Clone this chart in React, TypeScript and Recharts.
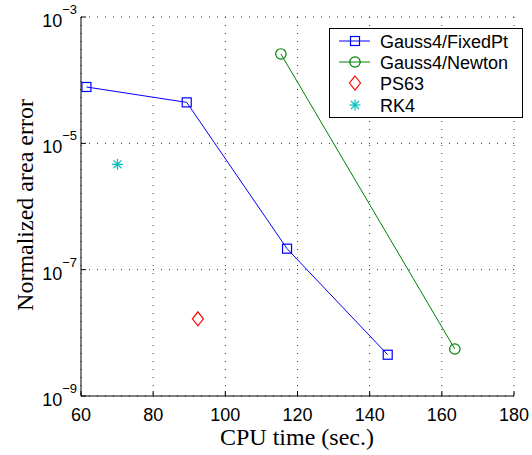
import {
  ScatterChart, Scatter, XAxis, YAxis, CartesianGrid, Legend,
} from 'recharts'

// CPU time (sec.) vs normalized area error
const fixedPtTime = [61.5, 89.3, 117.1, 145.0]
const fixedPtError = [7.8e-5, 4.45e-5, 2.15e-7, 4.5e-9]
const newtonTime = [115.4, 163.6]
const newtonError = [2.6e-4, 5.55e-9]
const ps63Time = [92.4]
const ps63Error = [1.67e-8]
const rk4Time = [70.1]
const rk4Error = [4.65e-6]

const xTicks = [60, 80, 100, 120, 140, 160, 180]
const yTicks = [1e-9, 1e-7, 1e-5, 1e-3]

const BLUE = '#0000ff'
const GREEN = '#008000'
const RED = '#ff0000'
const CYAN = '#00bfbf'

const sans = '"Liberation Sans", Arial, Helvetica, sans-serif'
const serif = '"Liberation Serif", "Times New Roman", serif'

const toPoints = (xs: number[], ys: number[]) => xs.map((x, i) => ({ x, y: ys[i] }))

function Square({ cx, cy, stroke }: any) {
  return <rect x={cx - 4.5} y={cy - 4.5} width={9} height={9} fill="none" stroke={stroke} strokeWidth={1.2} />
}

function Circle({ cx, cy, stroke }: any) {
  return <circle cx={cx} cy={cy} r={5.2} fill="none" stroke={stroke} strokeWidth={1.2} />
}

function Diamond({ cx, cy, stroke }: any) {
  return (
    <path
      d={`M${cx},${cy - 7} L${cx + 5.5},${cy} L${cx},${cy + 7} L${cx - 5.5},${cy} Z`}
      fill="none" stroke={stroke} strokeWidth={1.2}
    />
  )
}

function Star({ cx, cy, stroke }: any) {
  const r = 5.5
  const d = r * 0.72
  return (
    <g stroke={stroke} strokeWidth={1.2}>
      <line x1={cx - r} y1={cy} x2={cx + r} y2={cy} />
      <line x1={cx} y1={cy - r} x2={cx} y2={cy + r} />
      <line x1={cx - d} y1={cy - d} x2={cx + d} y2={cy + d} />
      <line x1={cx - d} y1={cy + d} x2={cx + d} y2={cy - d} />
    </g>
  )
}

function BottomTick({ x, y, payload }: any) {
  const axisY = y - 4
  return (
    <g>
      <line x1={x} y1={axisY} x2={x} y2={axisY - 5} stroke="#000" />
      <text x={x} y={y} dy={21} textAnchor="middle" fontFamily={sans} fontSize={18} fill="#000">
        {payload.value}
      </text>
    </g>
  )
}

function LeftTick({ x, y, payload }: any) {
  const exp = Math.round(Math.log10(payload.value))
  const axisX = x + 4
  return (
    <g>
      <line x1={axisX} y1={y} x2={axisX + 5} y2={y} stroke="#000" />
      <text x={x} y={y + 10} textAnchor="end" fontFamily={sans} fontSize={18} fill="#000">
        10<tspan dy={-13} fontSize={13}>{`\u2212${Math.abs(exp)}`}</tspan>
      </text>
    </g>
  )
}

function TopTick({ x, y }: any) {
  return <line x1={x} y1={y} x2={x} y2={y + 5} stroke="#000" />
}

function RightTick({ x, y }: any) {
  return <line x1={x} y1={y} x2={x - 5} y2={y} stroke="#000" />
}

const legendRows = [
  { name: 'Gauss4/FixedPt', color: BLUE, line: true, Mark: Square },
  { name: 'Gauss4/Newton', color: GREEN, line: true, Mark: Circle },
  { name: 'PS63', color: RED, line: false, Mark: Diamond },
  { name: 'RK4', color: CYAN, line: false, Mark: Star },
]

function LegendBox() {
  const rowY = [13, 34, 55, 77]
  return (
    <svg width={194} height={90} style={{ display: 'block' }}>
      <rect x={0.5} y={0.5} width={193} height={89} fill="#fff" stroke="#000" strokeWidth={1} />
      {legendRows.map((r, i) => (
        <g key={r.name}>
          {r.line && <line x1={10} y1={rowY[i]} x2={41} y2={rowY[i]} stroke={r.color} strokeWidth={1} />}
          <r.Mark cx={26} cy={rowY[i]} stroke={r.color} />
          <text x={51} y={rowY[i] + 6.5} fontFamily={sans} fontSize={18} fill="#000">{r.name}</text>
        </g>
      ))}
    </svg>
  )
}

export default function App() {
  return (
    <div style={{ position: 'fixed', left: 0, top: 0, width: 532, height: 455, background: '#fff' }}>
      <ScatterChart width={532} height={455} margin={{ top: 17, right: 18, bottom: 29, left: 11 }}>
        <CartesianGrid stroke="#333" strokeDasharray="1 7" />
        <XAxis
          type="number" dataKey="x" domain={[60, 180]} ticks={xTicks} height={30}
          stroke="#000" tickSize={0} tickMargin={4} tick={<BottomTick />} allowDataOverflow
        />
        <XAxis
          xAxisId="top" orientation="top" type="number" domain={[60, 180]} ticks={xTicks} height={0}
          stroke="#000" tickSize={0} tickMargin={0} tick={<TopTick />} allowDataOverflow
        />
        <YAxis
          type="number" dataKey="y" scale="log" domain={[1e-9, 1e-3]} ticks={yTicks} width={70}
          stroke="#000" tickSize={0} tickMargin={4} tick={<LeftTick />} allowDataOverflow
        />
        <YAxis
          yAxisId="right" orientation="right" type="number" scale="log" domain={[1e-9, 1e-3]} ticks={yTicks}
          width={0} stroke="#000" tickSize={0} tickMargin={0} tick={<RightTick />} allowDataOverflow
        />
        <Scatter
          name="Gauss4/FixedPt" data={toPoints(fixedPtTime, fixedPtError)}
          line={{ stroke: BLUE, strokeWidth: 1 }} shape={<Square stroke={BLUE} />} isAnimationActive={false}
        />
        <Scatter
          name="Gauss4/Newton" data={toPoints(newtonTime, newtonError)}
          line={{ stroke: GREEN, strokeWidth: 1 }} shape={<Circle stroke={GREEN} />} isAnimationActive={false}
        />
        <Scatter
          name="PS63" data={toPoints(ps63Time, ps63Error)}
          shape={<Diamond stroke={RED} />} isAnimationActive={false}
        />
        <Scatter
          name="RK4" data={toPoints(rk4Time, rk4Error)}
          shape={<Star stroke={CYAN} />} isAnimationActive={false}
        />
        <Legend
          layout="vertical" align="center" verticalAlign="middle"
          wrapperStyle={{ left: 329, top: 28, width: 194, height: 90 }}
          content={() => <LegendBox />}
        />
        <text x={297} y={445} textAnchor="middle" fontFamily={serif} fontSize={24} fill="#000">
          CPU time (sec.)
        </text>
        <text
          x={33} y={205} textAnchor="middle" fontFamily={serif} fontSize={24} fill="#000"
          transform="rotate(-90, 33, 205)"
        >
          Normalized area error
        </text>
      </ScatterChart>
    </div>
  )
}
